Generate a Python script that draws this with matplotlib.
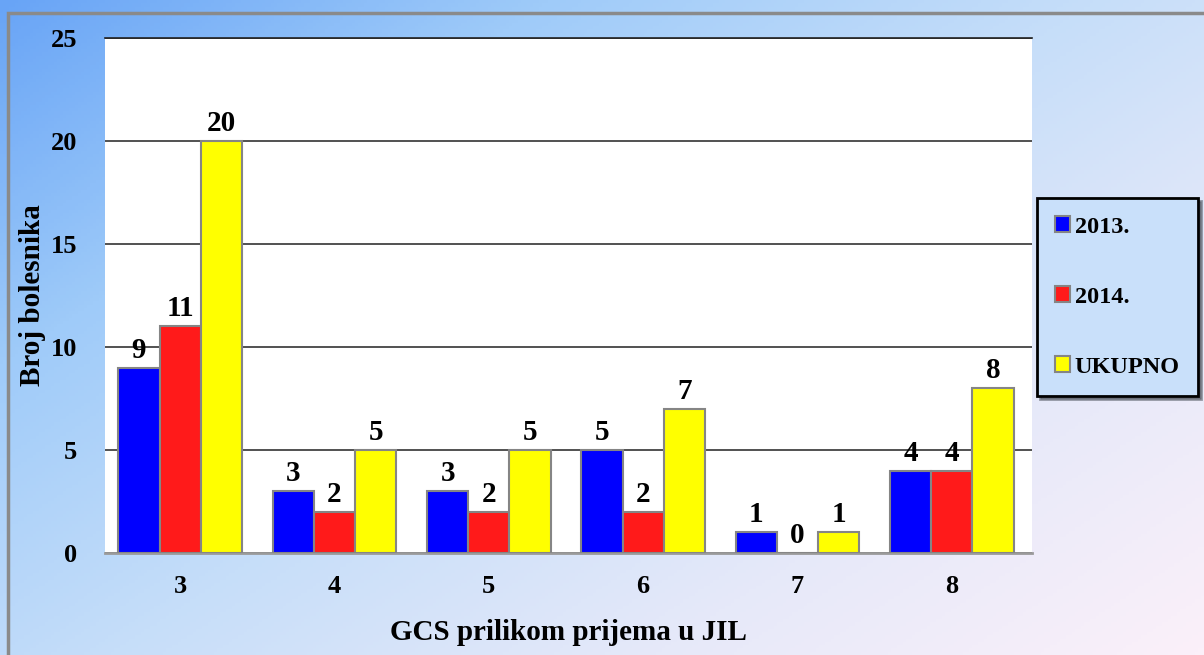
import numpy as np
import matplotlib
matplotlib.use("Agg")
import matplotlib.pyplot as plt
from matplotlib.colors import LinearSegmentedColormap
from matplotlib.patches import Rectangle

# data
categories = ["3", "4", "5", "6", "7", "8"]
series_names = ["2013.", "2014.", "UKUPNO"]
values_2013 = [9, 3, 3, 5, 1, 4]
values_2014 = [11, 2, 2, 2, 0, 4]
values_total = [20, 5, 5, 7, 1, 8]
y_ticks = [0, 5, 10, 15, 20, 25]

colors = ["#0000ff", "#ff1a1a", "#ffff00"]
serif = ["Liberation Serif", "DejaVu Serif"]
plt.rcParams["font.family"] = serif
plt.rcParams["font.weight"] = "bold"

fig = plt.figure(figsize=(12.04, 6.55), dpi=100)

# diagonal gradient background: blue top-left to pale pink bottom-right
bg = fig.add_axes([0, 0, 1, 1], zorder=-10)
yy, xx = np.mgrid[0:1:200j, 0:1:400j]
grad = (xx * 0.55 + yy * 0.45)
cmap = LinearSegmentedColormap.from_list(
    "bg", ["#68a4f6", "#9fcbf9", "#c6def9", "#e6e9f9", "#fbf0f9"])
bg.imshow(grad, cmap=cmap, aspect="auto", extent=[0, 1, 0, 1], origin="upper")
bg.set_xlim(0, 1)
bg.set_ylim(0, 1)
bg.axis("off")
# grey frame (left and top edges visible)
bg.add_patch(Rectangle((8 / 1204, -0.1), 1.2, 0.1 + 1 - 13 / 655,
                       fill=False, edgecolor="#8a8a8a", linewidth=2.5))

ax = fig.add_axes([105 / 1204, 1 - 553 / 655, 927 / 1204, 515 / 655])
ax.set_facecolor("white")

x = np.arange(len(categories))
w = 0.267
all_series = [values_2013, values_2014, values_total]
for i, (vals, c) in enumerate(zip(all_series, colors)):
    pos = x + (i - 1) * w
    ax.bar(pos, vals, width=w, color=c, edgecolor="#858585", linewidth=1.5,
           zorder=3)
    for p, v in zip(pos, vals):
        ax.text(p, v + 0.85, str(v), ha="center", va="center",
                fontsize=21, fontweight="bold", zorder=4)

ax.set_xlim(-0.487, len(categories) - 1 + 0.52)
ax.set_ylim(0, 25)
ax.set_yticks(y_ticks)
ax.set_xticks(x)
ax.set_xticklabels(categories)
ax.tick_params(axis="both", length=0, labelsize=19)
ax.tick_params(axis="y", pad=20)
ax.tick_params(axis="x", pad=16)
ax.yaxis.grid(True, color="#222222", linewidth=1.1, zorder=1)
ax.set_axisbelow(True)
for s in ["left", "right"]:
    ax.spines[s].set_visible(False)
ax.spines["top"].set_color("#222222")
ax.spines["top"].set_linewidth(1.2)
ax.spines["bottom"].set_color("#9a9a9a")
ax.spines["bottom"].set_linewidth(2)

ax.set_ylabel("Broj bolesnika", fontsize=21, fontweight="bold")
ax.set_xlabel("GCS prilikom prijema u JIL", fontsize=21, fontweight="bold")
ax.yaxis.set_label_coords(-72 / 927, 0.5)
ax.xaxis.set_label_coords(0.5, -79 / 515)
ax.xaxis.label.set_va("center")
ax.yaxis.label.set_va("center")

handles = [Rectangle((0, 0), 1, 1, facecolor=c, edgecolor="#858585",
                     linewidth=1.5) for c in colors]
leg = fig.legend(handles, series_names, loc="center left",
                 bbox_to_anchor=(1037 / 1204, 1 - 297 / 655),
                 handlelength=0.6, handleheight=0.6,
                 handletextpad=0.2, labelspacing=2.0, borderpad=0.75,
                 borderaxespad=0, frameon=True, fancybox=False, shadow=True,
                 prop={"family": serif, "weight": "bold", "size": 17.5})
leg.get_frame().set_edgecolor("black")
leg.get_frame().set_linewidth(2)
leg.get_frame().set_facecolor("#c9e0fa")

fig.savefig("out.png", dpi=100)
